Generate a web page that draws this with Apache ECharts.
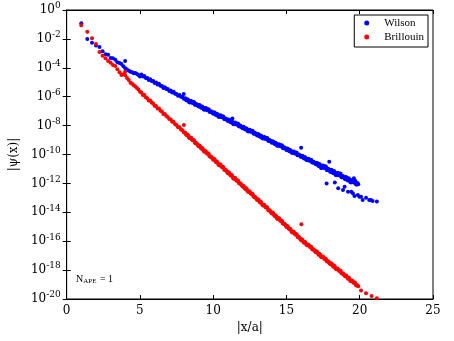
<!DOCTYPE html>
<html>
<head>
<meta charset="utf-8">
<script src="https://cdn.jsdelivr.net/npm/echarts@6/dist/echarts.min.js"></script>
<style>
  html, body { margin: 0; padding: 0; background: #fff; }
  #chart { width: 454px; height: 341px; }
</style>
</head>
<body>
<div id="chart"></div>
<script>
var xNear = [1, 1.41, 1.73, 2, 2.24, 2.45, 2.65, 2.83, 3, 3.16, 3.32, 3.46, 3.61, 3.74, 3.87, 4, 4.12, 4.24, 4.36, 4.47, 4.58, 4.69, 4.8, 4.9, 5]
var wilsonNear = [-0.92, -2.0, -2.26, -2.45, -2.56, -2.86, -3.07, -3.09, -3.32, -3.34, -3.45, -3.62, -3.66, -3.74, -3.9, -4.03, -4.12, -4.2, -4.27, -4.3, -4.38, -4.36, -4.43, -4.5, -4.6]
var brillNear = [-1.06, -1.5, -1.96, -2.35, -2.9, -3.16, -3.34, -3.53, -3.65, -3.8, -3.88, -4.1, -4.3, -4.5, -4.45, -4.52, -4.7, -4.85, -5.03, -5.1, -5.2, -5.3, -5.4, -5.5, -5.65]

var xMid = [5.1, 5.2, 5.3, 5.4, 5.5, 5.6, 5.7, 5.8, 5.9, 6.0,
  6.1, 6.2, 6.3, 6.4, 6.5, 6.6, 6.7, 6.8, 6.9, 7.0,
  7.1, 7.2, 7.3, 7.4, 7.5, 7.6, 7.7, 7.8, 7.9, 8.0]
var wilsonMid = [-4.46, -4.61, -4.56, -4.70, -4.71, -4.84, -4.79, -4.91, -4.92, -5.05,
  -5.02, -5.16, -5.11, -5.25, -5.26, -5.39, -5.34, -5.46, -5.47, -5.60,
  -5.57, -5.71, -5.66, -5.80, -5.81, -5.94, -5.89, -6.01, -6.02, -6.15]
var brillMid = [-5.71, -5.88, -5.88, -6.04, -6.10, -6.26, -6.26, -6.41, -6.47, -6.62,
  -6.64, -6.81, -6.81, -6.97, -7.03, -7.19, -7.19, -7.34, -7.40, -7.55,
  -7.57, -7.74, -7.74, -7.90, -7.96, -8.12, -8.12, -8.27, -8.33, -8.48]

// dense band, first comb: x = 8.1 ... 19.9
var xFarA = [8.1, 8.2, 8.3, 8.4, 8.5, 8.6, 8.7, 8.8, 8.9, 9.0,
  9.1, 9.2, 9.3, 9.4, 9.5, 9.6, 9.7, 9.8, 9.9, 10.0,
  10.1, 10.2, 10.3, 10.4, 10.5, 10.6, 10.7, 10.8, 10.9, 11.0,
  11.1, 11.2, 11.3, 11.4, 11.5, 11.6, 11.7, 11.8, 11.9, 12.0,
  12.1, 12.2, 12.3, 12.4, 12.5, 12.6, 12.7, 12.8, 12.9, 13.0,
  13.1, 13.2, 13.3, 13.4, 13.5, 13.6, 13.7, 13.8, 13.9, 14.0,
  14.1, 14.2, 14.3, 14.4, 14.5, 14.6, 14.7, 14.8, 14.9, 15.0,
  15.1, 15.2, 15.3, 15.4, 15.5, 15.6, 15.7, 15.8, 15.9, 16.0,
  16.1, 16.2, 16.3, 16.4, 16.5, 16.6, 16.7, 16.8, 16.9, 17.0,
  17.1, 17.2, 17.3, 17.4, 17.5, 17.6, 17.7, 17.8, 17.9, 18.0,
  18.1, 18.2, 18.3, 18.4, 18.5, 18.6, 18.7, 18.8, 18.9, 19.0,
  19.1, 19.2, 19.3, 19.4, 19.5, 19.6, 19.7, 19.8, 19.9]
var wilsonFarA = [-6.11, -6.27, -6.24, -6.40, -6.29, -6.43, -6.38, -6.56, -6.56, -6.68,
  -6.61, -6.77, -6.74, -6.90, -6.79, -6.93, -6.88, -7.06, -7.06, -7.18,
  -7.11, -7.27, -7.24, -7.40, -7.29, -7.43, -7.38, -7.56, -7.56, -7.68,
  -7.61, -7.77, -7.74, -7.90, -7.79, -7.93, -7.88, -8.06, -8.06, -8.18,
  -8.11, -8.27, -8.24, -8.40, -8.29, -8.43, -8.38, -8.56, -8.56, -8.68,
  -8.61, -8.77, -8.74, -8.90, -8.79, -8.93, -8.88, -9.06, -9.06, -9.18,
  -9.11, -9.27, -9.24, -9.40, -9.29, -9.43, -9.38, -9.56, -9.56, -9.68,
  -9.61, -9.77, -9.74, -9.90, -9.79, -9.93, -9.88, -10.06, -10.06, -10.18,
  -10.11, -10.27, -10.24, -10.40, -10.29, -10.43, -10.38, -10.56, -10.56, -10.68,
  -10.59, -10.80, -10.73, -10.94, -10.76, -10.94, -10.84, -11.08, -11.06, -11.21,
  -11.09, -11.30, -11.23, -11.44, -11.26, -11.44, -11.34, -11.58, -11.56, -11.71,
  -11.59, -11.80, -11.73, -11.94, -11.76, -11.94, -11.84, -12.08, -12.06]
var brillFarA = [-8.49, -8.67, -8.70, -8.88, -8.84, -9.02, -9.03, -9.22, -9.27, -9.43,
  -9.42, -9.60, -9.63, -9.81, -9.77, -9.95, -9.96, -10.15, -10.20, -10.36,
  -10.35, -10.53, -10.56, -10.74, -10.70, -10.88, -10.89, -11.08, -11.13, -11.29,
  -11.28, -11.46, -11.49, -11.67, -11.63, -11.81, -11.82, -12.01, -12.06, -12.22,
  -12.21, -12.39, -12.42, -12.60, -12.56, -12.74, -12.75, -12.94, -12.99, -13.15,
  -13.14, -13.32, -13.35, -13.53, -13.49, -13.67, -13.68, -13.87, -13.92, -14.08,
  -14.07, -14.25, -14.28, -14.46, -14.42, -14.60, -14.61, -14.80, -14.85, -15.01,
  -15.00, -15.18, -15.21, -15.39, -15.35, -15.53, -15.54, -15.73, -15.78, -15.94,
  -15.92, -16.10, -16.11, -16.28, -16.24, -16.40, -16.40, -16.58, -16.63, -16.77,
  -16.75, -16.93, -16.94, -17.11, -17.07, -17.23, -17.23, -17.41, -17.46, -17.60,
  -17.58, -17.76, -17.77, -17.94, -17.90, -18.06, -18.06, -18.24, -18.29, -18.43,
  -18.41, -18.59, -18.60, -18.77, -18.73, -18.89, -18.89, -19.07, -19.12]

// dense band, second comb: x = 8.15 ... 19.85
var xFarB = [8.15, 8.25, 8.35, 8.45, 8.55, 8.65, 8.75, 8.85, 8.95, 9.05,
  9.15, 9.25, 9.35, 9.45, 9.55, 9.65, 9.75, 9.85, 9.95, 10.05,
  10.15, 10.25, 10.35, 10.45, 10.55, 10.65, 10.75, 10.85, 10.95, 11.05,
  11.15, 11.25, 11.35, 11.45, 11.55, 11.65, 11.75, 11.85, 11.95, 12.05,
  12.15, 12.25, 12.35, 12.45, 12.55, 12.65, 12.75, 12.85, 12.95, 13.05,
  13.15, 13.25, 13.35, 13.45, 13.55, 13.65, 13.75, 13.85, 13.95, 14.05,
  14.15, 14.25, 14.35, 14.45, 14.55, 14.65, 14.75, 14.85, 14.95, 15.05,
  15.15, 15.25, 15.35, 15.45, 15.55, 15.65, 15.75, 15.85, 15.95, 16.05,
  16.15, 16.25, 16.35, 16.45, 16.55, 16.65, 16.75, 16.85, 16.95, 17.05,
  17.15, 17.25, 17.35, 17.45, 17.55, 17.65, 17.75, 17.85, 17.95, 18.05,
  18.15, 18.25, 18.35, 18.45, 18.55, 18.65, 18.75, 18.85, 18.95, 19.05,
  19.15, 19.25, 19.35, 19.45, 19.55, 19.65, 19.75, 19.85]
var wilsonFarB = [-6.23, -6.18, -6.37, -6.32, -6.41, -6.36, -6.55, -6.50, -6.61, -6.58,
  -6.73, -6.68, -6.87, -6.82, -6.91, -6.86, -7.05, -7.00, -7.11, -7.08,
  -7.23, -7.18, -7.37, -7.32, -7.41, -7.36, -7.55, -7.50, -7.61, -7.58,
  -7.73, -7.68, -7.87, -7.82, -7.91, -7.86, -8.05, -8.00, -8.11, -8.08,
  -8.23, -8.18, -8.37, -8.32, -8.41, -8.36, -8.55, -8.50, -8.61, -8.58,
  -8.73, -8.68, -8.87, -8.82, -8.91, -8.86, -9.05, -9.00, -9.11, -9.08,
  -9.23, -9.18, -9.37, -9.32, -9.41, -9.36, -9.55, -9.50, -9.61, -9.58,
  -9.73, -9.68, -9.87, -9.82, -9.91, -9.86, -10.05, -10.00, -10.11, -10.08,
  -10.23, -10.18, -10.37, -10.32, -10.41, -10.36, -10.55, -10.50, -10.61, -10.58,
  -10.75, -10.65, -10.91, -10.81, -10.92, -10.82, -11.08, -10.98, -11.12, -11.05,
  -11.25, -11.15, -11.41, -11.31, -11.42, -11.32, -11.58, -11.48, -11.62, -11.55,
  -11.75, -11.65, -11.91, -11.81, -11.92, -11.82, -12.08, -11.98]
var brillFarB = [-8.61, -8.62, -8.83, -8.84, -8.96, -8.99, -9.19, -9.20, -9.34, -9.37,
  -9.54, -9.55, -9.76, -9.77, -9.89, -9.92, -10.12, -10.13, -10.27, -10.30,
  -10.47, -10.48, -10.69, -10.70, -10.82, -10.85, -11.05, -11.06, -11.20, -11.23,
  -11.40, -11.41, -11.62, -11.63, -11.75, -11.78, -11.98, -11.99, -12.13, -12.16,
  -12.33, -12.34, -12.55, -12.56, -12.68, -12.71, -12.91, -12.92, -13.06, -13.09,
  -13.26, -13.27, -13.48, -13.49, -13.61, -13.64, -13.84, -13.85, -13.99, -14.02,
  -14.19, -14.20, -14.41, -14.42, -14.54, -14.57, -14.77, -14.78, -14.92, -14.95,
  -15.12, -15.13, -15.34, -15.35, -15.47, -15.50, -15.70, -15.71, -15.85, -15.87,
  -16.03, -16.03, -16.23, -16.23, -16.34, -16.36, -16.55, -16.55, -16.69, -16.70,
  -16.86, -16.86, -17.06, -17.06, -17.17, -17.19, -17.38, -17.38, -17.52, -17.53,
  -17.69, -17.69, -17.89, -17.89, -18.00, -18.02, -18.21, -18.21, -18.35, -18.36,
  -18.52, -18.52, -18.72, -18.72, -18.83, -18.85, -19.04, -19.04]

// stray points and the far tails
var wilsonStrayX = [3.99, 7.99, 11.31, 16.0, 17.92, 19.6, 17.74, 18.3, 18.53, 18.86, 18.97, 19.2, 19.42, 19.53, 19.64, 19.87, 19.98, 20.09, 20.2, 20.43, 20.65, 20.77, 20.88, 21.17]
var wilsonStrayY = [-3.53, -5.81, -7.5, -9.53, -10.5, -11.65, -12.0, -11.93, -12.34, -12.46, -12.23, -12.57, -12.57, -12.69, -12.87, -12.8, -12.92, -12.92, -13.15, -13.0, -13.15, -13.15, -13.22, -13.26]
var brillStrayX = [3.99, 8.0, 16.02, 20.09, 20.43, 20.81, 21.17]
var brillStrayY = [-4.27, -7.96, -14.83, -19.42, -19.6, -19.79, -19.95]

function pts(xs, es) {
  var out = []
  for (var i = 0; i < xs.length; i++) {
    out.push([xs[i], Math.pow(10, es[i])])
  }
  return out
}

var wilsonData = pts(xNear, wilsonNear).concat(pts(xMid, wilsonMid), pts(xFarA, wilsonFarA), pts(xFarB, wilsonFarB), pts(wilsonStrayX, wilsonStrayY))
var brillData = pts(xNear, brillNear).concat(pts(xMid, brillMid), pts(xFarA, brillFarA), pts(xFarB, brillFarB), pts(brillStrayX, brillStrayY))

var font = 'DejaVu Serif'
var textFont = 'Liberation Serif'
var supLabel = function (v) {
  var e = Math.round(Math.log10(v))
  return '10{sup|' + e + '}'
}

var myChart = echarts.init(document.getElementById('chart'))
myChart.setOption({
  backgroundColor: '#fff',
  animation: false,
  grid: { left: 61, right: 21, top: 10, bottom: 42, show: true, borderColor: '#000', borderWidth: 1 },
  legend: {
    data: ['Wilson', 'Brillouin'],
    orient: 'vertical',
    right: 26,
    top: 15,
    padding: [2, 4, 4, 10],
    itemGap: 2,
    itemWidth: 5,
    itemHeight: 5,
    borderColor: '#000',
    borderWidth: 1,
    borderRadius: 0,
    textStyle: { fontFamily: textFont, fontSize: 11, lineHeight: 12, color: '#000', padding: [0, 0, 0, 10] },
  },
  xAxis: [
    {
      type: 'value',
      min: 0,
      max: 25,
      interval: 5,
      name: '|x/a|',
      nameLocation: 'middle',
      nameGap: 22,
      nameTextStyle: { fontFamily: font, fontSize: 12, color: '#000' },
      axisLine: { lineStyle: { color: '#000' } },
      axisTick: { inside: true, length: 4, lineStyle: { color: '#000' } },
      axisLabel: { fontFamily: font, fontSize: 12, color: '#000', margin: 6 },
      splitLine: { show: false },
    },
    {
      type: 'value',
      position: 'top',
      min: 0,
      max: 25,
      interval: 5,
      axisLine: { lineStyle: { color: '#000' } },
      axisTick: { inside: true, length: 4, lineStyle: { color: '#000' } },
      axisLabel: { show: false },
      splitLine: { show: false },
    },
  ],
  yAxis: [
    {
      type: 'log',
      logBase: 10,
      min: 1e-20,
      max: 1,
      interval: 2,
      name: '|\u03c8(x)|',
      nameLocation: 'middle',
      nameGap: 36,
      nameTextStyle: { fontFamily: font, fontSize: 12, color: '#000' },
      axisLine: { lineStyle: { color: '#000' } },
      axisTick: { inside: true, length: 4, lineStyle: { color: '#000' } },
      minorTick: { show: false },
      axisLabel: {
        fontFamily: font,
        fontSize: 12,
        color: '#000',
        margin: 6,
        formatter: supLabel,
        rich: { sup: { fontFamily: font, fontSize: 9, verticalAlign: 'top', padding: [0, 0, 8, 0] } },
      },
      splitLine: { show: false },
    },
    {
      type: 'log',
      logBase: 10,
      position: 'right',
      min: 1e-20,
      max: 1,
      interval: 2,
      axisLine: { lineStyle: { color: '#000' } },
      axisTick: { inside: true, length: 4, lineStyle: { color: '#000' } },
      axisLabel: { show: false },
      splitLine: { show: false },
    },
  ],
  graphic: [
    {
      type: 'text',
      left: 76,
      top: 274,
      style: {
        text: 'N{sub|APE} = 1',
        font: '10px ' + textFont,
        fill: '#000',
        rich: { sub: { fontSize: 7, fontFamily: textFont, padding: [5, 1, 0, 0] } },
      },
    },
  ],
  series: [
    {
      name: 'Wilson',
      type: 'scatter',
      symbol: 'circle',
      symbolSize: 4,
      itemStyle: { color: '#0000ff', opacity: 1 },
      data: wilsonData,
    },
    {
      name: 'Brillouin',
      type: 'scatter',
      symbol: 'circle',
      symbolSize: 4,
      itemStyle: { color: '#ff0000', opacity: 1 },
      data: brillData,
    },
  ],
})
</script>
</body>
</html>
